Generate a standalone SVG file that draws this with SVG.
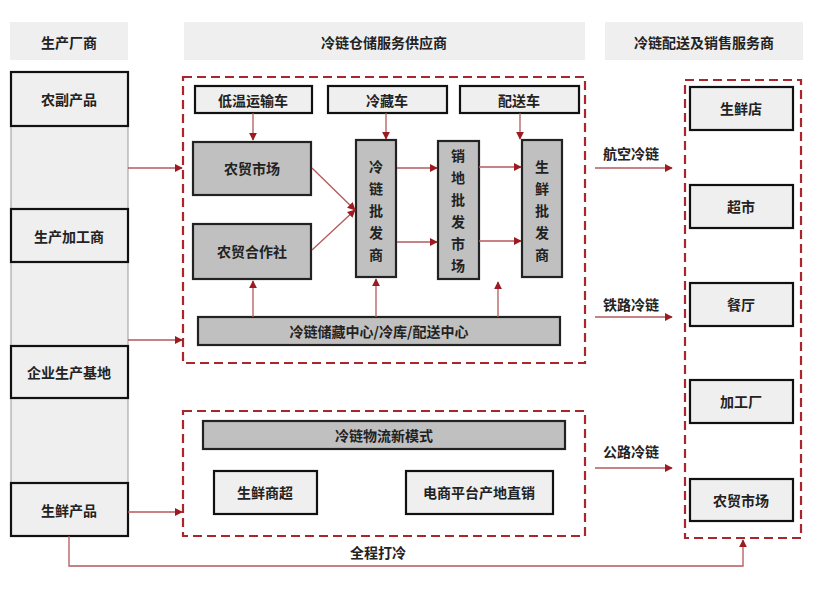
<svg xmlns="http://www.w3.org/2000/svg" width="816" height="598" viewBox="0 0 816 598">
<style>
text{font-family:"Noto Sans CJK SC","Noto Sans",sans-serif;font-size:14px;font-weight:bold;fill:#222;text-anchor:middle;dominant-baseline:central}
.hdr{fill:#efefef}
.lt{fill:#efefef;stroke:#111;stroke-width:2.2}
.gr{fill:#c0c0c0;stroke:#222;stroke-width:2.2}
.dash{fill:none;stroke:#a8272c;stroke-width:2.2;stroke-dasharray:9 5}
.con line,.con path{fill:none;stroke:#b3585b;stroke-width:1.3}
.con .a{marker-end:url(#ah)}
</style>
<defs>
<marker id="ah" viewBox="0 0 10 10" refX="9" refY="5" markerWidth="8" markerHeight="8" markerUnits="userSpaceOnUse" orient="auto">
<path d="M0,0 L10,5 L0,10 z" fill="#9b1b20"/>
</marker>
</defs>
<rect width="816" height="598" fill="#fff"/>

<g id="headers">
<rect class="hdr" x="10" y="22" width="118" height="38"/>
<text x="69" y="42">生产厂商</text>
<rect class="hdr" x="184" y="22" width="401" height="38"/>
<text x="384" y="42">冷链仓储服务供应商</text>
<rect class="hdr" x="605" y="22" width="198" height="38"/>
<text x="704" y="42">冷链配送及销售服务商</text>
</g>

<g id="left-column">
<rect x="11" y="72" width="117" height="464" fill="#efefef" stroke="#999" stroke-width="1"/>
</g>
<g id="n-nongfu"><rect class="lt" x="11" y="72" width="117" height="54"/><text x="69" y="99">农副产品</text></g>
<g id="n-jiagong"><rect class="lt" x="11" y="209" width="117" height="53"/><text x="69" y="236">生产加工商</text></g>
<g id="n-jidi"><rect class="lt" x="11" y="346" width="117" height="52"/><text x="69" y="372">企业生产基地</text></g>
<g id="n-shengxian"><rect class="lt" x="11" y="483" width="117" height="53"/><text x="69" y="510">生鲜产品</text></g>

<g id="box-storage"><rect class="dash" x="183" y="77" width="402" height="286"/></g>
<g id="n-diwen"><rect class="lt" x="195" y="86" width="117" height="27"/><text x="253" y="100">低温运输车</text></g>
<g id="n-lengcang"><rect class="lt" x="328" y="86" width="119" height="27"/><text x="387" y="100">冷藏车</text></g>
<g id="n-peisong"><rect class="lt" x="460" y="86" width="119" height="27"/><text x="519" y="100">配送车</text></g>
<g id="n-nongmao"><rect class="gr" x="193" y="142" width="118" height="53"/><text x="252" y="168">农贸市场</text></g>
<g id="n-hezuo"><rect class="gr" x="193" y="224" width="118" height="55"/><text x="252" y="251">农贸合作社</text></g>
<g id="n-lengpi"><rect class="gr" x="356" y="140" width="40" height="137"/>
<text x="376" y="166">冷</text><text x="376" y="188">链</text><text x="376" y="210">批</text><text x="376" y="232">发</text><text x="376" y="254">商</text></g>
<g id="n-xiaodi"><rect class="gr" x="438" y="141" width="41" height="138"/>
<text x="458" y="155">销</text><text x="458" y="177">地</text><text x="458" y="199">批</text><text x="458" y="221">发</text><text x="458" y="243">市</text><text x="458" y="265">场</text></g>
<g id="n-shengpi"><rect class="gr" x="522" y="140" width="40" height="137"/>
<text x="542" y="166">生</text><text x="542" y="188">鲜</text><text x="542" y="210">批</text><text x="542" y="232">发</text><text x="542" y="254">商</text></g>
<g id="n-center"><rect class="gr" x="198" y="317" width="362" height="28"/><text x="379" y="331">冷链储藏中心/冷库/配送中心</text></g>

<g id="box-newmode"><rect class="dash" x="183" y="411" width="402" height="125"/></g>
<g id="n-newmode"><rect class="gr" x="203" y="421" width="362" height="28"/><text x="384" y="435">冷链物流新模式</text></g>
<g id="n-shangchao"><rect class="lt" x="214" y="471" width="103" height="43"/><text x="265" y="492">生鲜商超</text></g>
<g id="n-dianshang"><rect class="lt" x="406" y="471" width="147" height="43"/><text x="479" y="492">电商平台产地直销</text></g>

<g id="box-sales"><rect class="dash" x="685" y="80" width="116" height="458"/></g>
<g id="n-dian"><rect class="lt" x="690" y="87" width="103" height="43"/><text x="741" y="108">生鲜店</text></g>
<g id="n-chaoshi"><rect class="lt" x="690" y="185" width="103" height="43"/><text x="741" y="206">超市</text></g>
<g id="n-canting"><rect class="lt" x="690" y="283" width="103" height="43"/><text x="741" y="304">餐厅</text></g>
<g id="n-gongchang"><rect class="lt" x="690" y="380" width="103" height="43"/><text x="741" y="401">加工厂</text></g>
<g id="n-nongmao2"><rect class="lt" x="690" y="479" width="103" height="42"/><text x="741" y="500">农贸市场</text></g>

<g id="connectors" class="con">
<line class="a" x1="128" y1="168" x2="182" y2="168"/>
<line class="a" x1="128" y1="340" x2="182" y2="340"/>
<line class="a" x1="128" y1="512" x2="182" y2="512"/>
<line class="a" x1="253" y1="113" x2="253" y2="140"/>
<line class="a" x1="386" y1="113" x2="386" y2="139"/>
<line class="a" x1="520" y1="113" x2="520" y2="139"/>
<line class="a" x1="312" y1="168" x2="355" y2="210"/>
<line class="a" x1="312" y1="250" x2="355" y2="210"/>
<line class="a" x1="397" y1="168" x2="437" y2="168"/>
<line class="a" x1="397" y1="242" x2="437" y2="242"/>
<line class="a" x1="479" y1="167" x2="521" y2="167"/>
<line class="a" x1="479" y1="241" x2="521" y2="241"/>
<line class="a" x1="253" y1="317" x2="253" y2="281"/>
<line class="a" x1="376" y1="317" x2="376" y2="279"/>
<line class="a" x1="498" y1="317" x2="498" y2="282"/>
<line class="a" x1="595" y1="168" x2="672" y2="168"/>
<line class="a" x1="595" y1="317" x2="672" y2="317"/>
<line class="a" x1="595" y1="468" x2="672" y2="468"/>
<path class="a" d="M69,536 V566 H743 V540"/>
</g>
<g id="labels">
<text x="631" y="153">航空冷链</text>
<text x="631" y="304">铁路冷链</text>
<text x="631" y="451">公路冷链</text>
<text x="378" y="552">全程打冷</text>
</g>
</svg>
